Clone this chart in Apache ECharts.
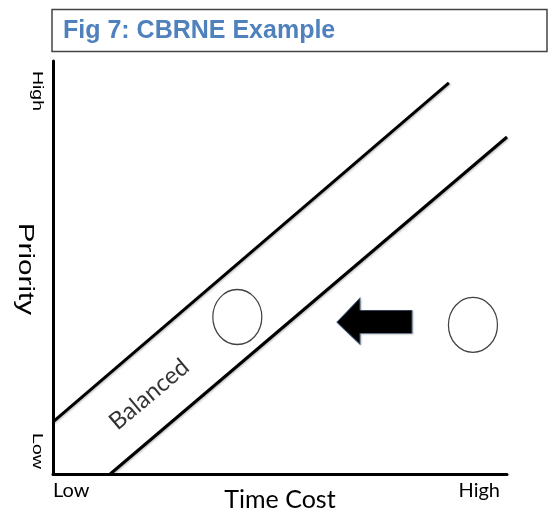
<!DOCTYPE html>
<html><head><meta charset="utf-8">
<script src="https://cdn.jsdelivr.net/npm/echarts@6/dist/echarts.min.js"></script>
<style>html,body{margin:0;padding:0;background:#fff}#c{width:548px;height:510px}</style>
</head><body><div id="c"></div>
<script>
// Data (abstract 0..10 scale on both axes)
var titleText = 'Fig 7: CBRNE Example';
var xName = 'Time Cost';
var yName = 'Priority';
var xTickLabels = ['Low', 'High'];
var yTickLabels = ['Low', 'High'];
var upperLine = [[0, 1.26], [8.72, 9.47]];
var lowerLine = [[1.26, 0], [10, 8.16]];
var circles = [[4.06, 3.80], [9.25, 3.61]];
var arrowPoint = [[7.08, 3.70]];
var bandLabel = [[2.12, 1.93, 'Balanced']];

var chart = echarts.init(document.getElementById('c'));
var ellipse = 'path://M0,50 A50,50 0 1,1 100,50 A50,50 0 1,1 0,50 Z';
var arrowPath = 'path://M0,24 L23,0 L23,12 L75,12 L75,35 L23,35 L23,46 Z';
var lineStyle = {color: '#000', width: 3, shadowColor: 'rgba(0,0,0,0.25)', shadowBlur: 2, shadowOffsetX: 1, shadowOffsetY: 1};

chart.setOption({
  animation: false,
  grid: {left: 53, right: 41, top: 61, bottom: 36, containLabel: false, outerBoundsMode: 'none'},
  xAxis: {
    type: 'value', min: 0, max: 10, interval: 10,
    name: xName, nameLocation: 'middle', nameGap: 26, nameMoveOverlap: false,
    nameTextStyle: {fontFamily: 'Lato', fontSize: 25, color: '#000', verticalAlign: 'middle'},
    axisLine: {show: true, onZero: false, lineStyle: {color: '#000', width: 3}},
    axisTick: {show: false}, splitLine: {show: false},
    axisLabel: {
      show: true, margin: 7, fontFamily: 'Lato', fontSize: 20, color: '#000',
      padding: [0, 7, 0, 0],
      alignMinLabel: 'left', alignMaxLabel: 'right',
      formatter: function (v) { return v === 0 ? xTickLabels[0] : (v === 10 ? xTickLabels[1] : ''); }
    }
  },
  yAxis: {
    type: 'value', min: 0, max: 10, interval: 10,
    axisLine: {show: true, onZero: false, lineStyle: {color: '#000', width: 3}},
    axisTick: {show: false}, splitLine: {show: false}, axisLabel: {show: false}
  },
  graphic: [
    {type: 'rect', shape: {x: 52, y: 9.5, width: 495, height: 42}, style: {fill: '#fff', stroke: '#444', lineWidth: 1.5}, z: 1},
    {type: 'text', x: 63, y: 31, style: {text: titleText, fill: '#4F81BD', font: 'bold 25px "Liberation Sans", Arial', textVerticalAlign: 'middle'}, z: 2},
    {type: 'text', x: 37, y: 91, rotation: -Math.PI / 2, scaleX: 1.3, style: {text: yTickLabels[1], fill: '#000', font: '15px "Liberation Sans", Arial', textAlign: 'center', textVerticalAlign: 'middle'}},
    {type: 'text', x: 37, y: 451, rotation: -Math.PI / 2, scaleX: 1.3, style: {text: yTickLabels[0], fill: '#000', font: '15px "Liberation Sans", Arial', textAlign: 'center', textVerticalAlign: 'middle'}},
    {type: 'text', x: 25, y: 269, rotation: -Math.PI / 2, scaleX: 1.35, style: {text: yName, fill: '#000', font: '22px "Liberation Sans", Arial', textAlign: 'center', textVerticalAlign: 'middle'}}
  ],
  series: [
    {type: 'line', data: upperLine, symbol: 'none', lineStyle: lineStyle, silent: true},
    {type: 'line', data: lowerLine, symbol: 'none', lineStyle: lineStyle, silent: true},
    {type: 'scatter', data: circles, symbol: ellipse, symbolSize: [49, 55],
     itemStyle: {color: '#fff', borderColor: '#111', borderWidth: 1.3}},
    {type: 'scatter', data: arrowPoint, symbol: arrowPath, symbolSize: [75, 46],
     itemStyle: {color: '#000', opacity: 1, borderColor: '#2c4a70', borderWidth: 0.8, shadowColor: 'rgba(0,0,0,0.2)', shadowBlur: 2, shadowOffsetX: 1, shadowOffsetY: 1}},
    {type: 'scatter', data: bandLabel, symbolSize: 0,
     label: {show: true, position: 'inside', rotate: 40, formatter: function (p) { return p.data[2]; },
       fontFamily: 'Lato', fontSize: 24, color: '#000'}}
  ]
});
</script></body></html>
